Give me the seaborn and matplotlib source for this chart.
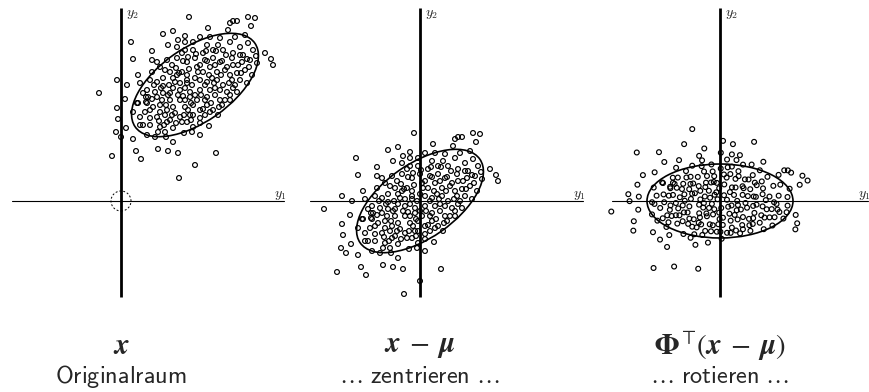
import numpy as np
import pandas as pd
import matplotlib
matplotlib.use("Agg")
import matplotlib.pyplot as plt
import seaborn as sns
from matplotlib.patches import Ellipse, Circle

sns.set_style("white")
plt.rcParams["mathtext.fontset"] = "cm"

# sample points (y1, y2) in the original space
outer_points = [
    (68, 184), (127, 184), (134, 183), (116, 180), (112, 180), (109, 178), (130, 175),
    (87, 173), (42, 167), (52, 170), (10, 159), (31, 150), (12, 142), (31, 141),
    (144, 148), (150, 142), (152, 136), (126, 142), (-4, 121), (6, 116), (-22, 108),
    (4, 102), (16, 98), (25, 99), (-4, 93), (12, 89), (-3, 82), (22, 76), (5, 73),
    (-5, 69), (0, 64), (12, 62), (15, 50), (20, 42), (37, 52), (47, 50), (57, 48),
    (52, 59), (45, 64), (-9, 45), (95, 48), (74, 36), (58, 23), (88, 75), (71, 69), (63, 68)]
inner_points = [
    (29, 121), (36, 119), (42, 115), (52, 113), (59, 118), (66, 121), (61, 129), (49, 129),
    (42, 123), (36, 104), (26, 98), (32, 94), (39, 89), (44, 86), (36, 84), (49, 81),
    (54, 88), (59, 84), (66, 79), (72, 86), (79, 91), (86, 96), (76, 101), (69, 104),
    (79, 111), (89, 111), (86, 119), (96, 121), (102, 116), (96, 129), (106, 134), (112, 136),
    (116, 128), (119, 121), (111, 121), (99, 139), (92, 143), (92, 151), (82, 148), (72, 151),
    (64, 159), (72, 159), (79, 164), (99, 163), (109, 159), (119, 154), (112, 148), (127, 158),
    (132, 151), (136, 138), (131, 126), (126, 118), (116, 109), (109, 101), (99, 101), (92, 91),
    (84, 86), (72, 74), (52, 73), (44, 69), (34, 64), (26, 66), (19, 84), (17, 98),
    (26, 111), (19, 118), (31, 129), (39, 134), (46, 141), (56, 143), (66, 139), (76, 134),
    (82, 129), (59, 101), (49, 101), (52, 94), (64, 94), (79, 78), (67, 144), (56, 154),
    (79, 136), (89, 134), (46, 91), (59, 111), (71, 116), (79, 121), (66, 126), (52, 123),
    (42, 108), (49, 108), (72, 96), (86, 104), (94, 106), (99, 111), (106, 109), (109, 126),
    (102, 151), (114, 164), (89, 164), (64, 165), (39, 74), (29, 76), (46, 79), (22, 108),
    (17, 126), (36, 139), (61, 148), (86, 156)]
core_points = [
    (64, 113), (69, 109), (74, 123), (57, 106), (84, 116), (91, 123), (77, 129), (54, 119),
    (47, 106), (39, 96), (29, 91), (24, 89), (67, 91), (74, 106), (94, 113), (104, 131),
    (111, 143), (121, 139), (124, 131), (114, 116), (101, 96), (89, 89), (79, 83), (61, 79),
    (51, 86), (41, 101), (34, 109), (27, 104), (44, 131), (51, 136), (74, 143), (84, 141),
    (94, 136), (119, 146), (129, 141), (64, 151), (57, 161), (47, 156), (124, 166), (107, 171),
    (97, 156), (29, 83), (19, 76), (37, 69), (69, 86), (84, 101), (64, 101), (109, 106),
    (97, 86), (79, 66),
    (58, 128), (62, 105), (70, 98), (80, 106), (88, 126), (93, 118), (100, 126), (108, 118),
    (117, 136), (122, 146), (105, 146), (95, 150), (85, 150), (75, 147), (68, 132), (56, 126),
    (48, 116), (40, 113), (33, 116), (25, 104), (31, 102), (38, 80), (43, 76), (55, 78),
    (63, 86), (70, 81), (82, 92), (90, 98), (98, 94), (104, 101), (112, 113), (120, 128),
    (128, 134), (135, 145), (62, 140), (55, 133), (86, 140), (101, 140), (45, 96), (66, 118)]

# mean vector, principal axis angle (deg) and ellipse half axes
mu = [74, 116]
phi_angle = 35
half_axes = [73, 37]

titles = [r"$\boldsymbol{x}$", r"$\boldsymbol{x}\;-\;\boldsymbol{\mu}$",
          r"$\boldsymbol{\Phi}^{\top}\!(\boldsymbol{x}\;-\;\boldsymbol{\mu})$"]
subtitles = [r"$\mathsf{Originalraum}$", r"$\mathsf{\ldots\ zentrieren\ \ldots}$",
             r"$\mathsf{\ldots\ rotieren\ \ldots}$"]

X = np.array(outer_points + inner_points + core_points, dtype=float)
Xc = X - np.array(mu)
t = np.deg2rad(phi_angle)
Phi = np.array([[np.cos(t), -np.sin(t)], [np.sin(t), np.cos(t)]])
Xr = Xc @ Phi

panels = [X, Xc, Xr]
centers = [mu, [0, 0], [0, 0]]
angles = [phi_angle, phi_angle, 0]
origin_px = [121, 420, 720]
hline = [(-109, 163), (-110, 163), (-108, 148)]

W, H = 870, 392
fig = plt.figure(figsize=(W / 100, H / 100), dpi=100)

for i, pts in enumerate(panels):
    ox = origin_px[i]
    left = ox - 115
    right = min(ox + 165, W)
    ax = fig.add_axes([left / W, (H - 300) / H, (right - left) / W, 295 / H])
    ax.set_xlim(left - ox, right - ox)
    ax.set_ylim(-99, 196)
    ax.set_axis_off()

    ax.plot([0, 0], [-96, 193], color="black", lw=2.0, solid_capstyle="butt")
    ax.plot(hline[i], [0, 0], color="black", lw=0.8)

    df = pd.DataFrame({"a": pts[:, 0], "b": pts[:, 1]})
    sns.scatterplot(data=df, x="a", y="b", ax=ax, marker="o", s=12,
                    facecolors="none", edgecolor="black", linewidth=0.85, legend=False)

    ax.add_patch(Ellipse(centers[i], 2 * half_axes[0], 2 * half_axes[1], angle=angles[i],
                         fill=False, color="black", lw=1.2))
    if i == 0:
        ax.add_patch(Circle((0, 0), 10, fill=False, color="black", lw=0.7, ls=(0, (2, 2))))

    ax.text(5, 187, r"$y_2$", fontsize=10, ha="left", va="center")
    ax.text(hline[i][1] - 10, 6, r"$y_1$", fontsize=10, ha="left", va="center", clip_on=False)
    ax.set_xlabel("")
    ax.set_ylabel("")

    fig.text(ox / W, 1 - 346 / H, titles[i], fontsize=21, ha="center", va="center",
             math_fontfamily="stix")
    fig.text(ox / W, 1 - 376 / H, subtitles[i], fontsize=17.5, ha="center", va="center")

fig.savefig("out.png", dpi=100)
